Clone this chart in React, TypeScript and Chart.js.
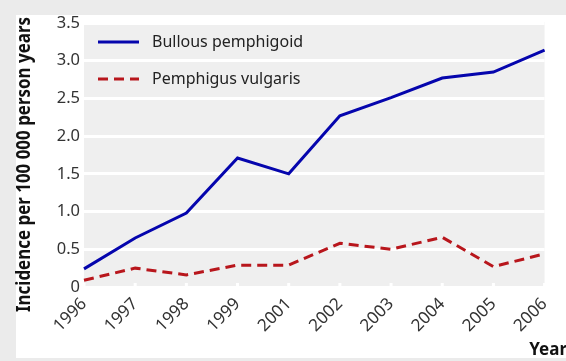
import React, { useEffect, useRef } from "react";
import { Chart, registerables } from "chart.js";

Chart.register(...registerables);

const years = ["1996", "1997", "1998", "1999", "2001", "2002", "2003", "2004", "2005", "2006"];
const bullousPemphigoid = [0.24, 0.65, 0.98, 1.71, 1.5, 2.27, 2.51, 2.77, 2.85, 3.14];
const pemphigusVulgaris = [0.09, 0.25, 0.16, 0.29, 0.29, 0.58, 0.5, 0.66, 0.27, 0.44];
const seriesNames = ["Bullous pemphigoid", "Pemphigus vulgaris"];
const yTitle = "Incidence per 100 000 person years";
const xTitle = "Year";

const FONT = "'Noto Sans', 'Open Sans', sans-serif";

const backgroundPlugin = {
  id: "bgPanel",
  beforeDraw(chart: any) {
    const { ctx, width, height, chartArea } = chart;
    ctx.save();
    ctx.fillStyle = "#ebebeb";
    ctx.fillRect(0, 0, width, height);
    ctx.fillStyle = "#ffffff";
    ctx.fillRect(16, 15, width - 16, 343);
    ctx.fillStyle = "#efefef";
    ctx.fillRect(chartArea.left, chartArea.top - 1, chartArea.right - chartArea.left, chartArea.bottom - chartArea.top + 1);
    ctx.restore();
  },
};

const overlayPlugin = {
  id: "overlay",
  afterDatasetsDraw(chart: any) {
    const { ctx, chartArea } = chart;
    ctx.save();
    const xs = chart.scales.x;
    ctx.strokeStyle = "#ffffff";
    ctx.lineWidth = 3;
    for (let i = 0; i < years.length; i++) {
      const px = xs.getPixelForValue(i);
      ctx.beginPath();
      ctx.moveTo(px, chartArea.bottom - 4);
      ctx.lineTo(px, chartArea.bottom + 3);
      ctx.stroke();
    }
    const rows = [42, 79];
    chart.data.datasets.forEach((ds: any, i: number) => {
      const y = rows[i];
      ctx.strokeStyle = ds.borderColor;
      ctx.lineWidth = 3;
      ctx.setLineDash(ds.borderDash || []);
      ctx.beginPath();
      ctx.moveTo(98, y);
      ctx.lineTo(139, y);
      ctx.stroke();
      ctx.setLineDash([]);
      ctx.fillStyle = "#222222";
      ctx.font = `16px ${FONT}`;
      ctx.textBaseline = "middle";
      ctx.textAlign = "left";
      ctx.fillText(ds.label, 152, y);
    });
    ctx.save();
    ctx.translate(25, 164.5);
    ctx.rotate(-Math.PI / 2);
    ctx.font = `bold 19px ${FONT}`;
    const w = ctx.measureText(yTitle).width;
    const target = 295;
    ctx.scale(target / w, 1);
    ctx.fillStyle = "#111111";
    ctx.textAlign = "center";
    ctx.textBaseline = "middle";
    ctx.fillText(yTitle, 0, 0);
    ctx.restore();
    ctx.font = `bold 17px ${FONT}`;
    ctx.fillStyle = "#111111";
    ctx.textAlign = "right";
    ctx.textBaseline = "middle";
    ctx.fillText(xTitle, 567, 350);
    ctx.restore();
  },
};

export default function App() {
  const ref = useRef<HTMLCanvasElement>(null);
  useEffect(() => {
    const chart = new Chart(ref.current as HTMLCanvasElement, {
      type: "line",
      data: {
        labels: years,
        datasets: [
          {
            label: seriesNames[0],
            data: bullousPemphigoid,
            borderColor: "#0505ad",
            borderWidth: 3,
            pointRadius: 0,
            tension: 0,
            fill: false,
          },
          {
            label: seriesNames[1],
            data: pemphigusVulgaris,
            borderColor: "#b8161c",
            borderWidth: 3,
            borderDash: [10, 6],
            pointRadius: 0,
            tension: 0,
            fill: false,
          },
        ],
      },
      options: {
        responsive: false,
        animation: false,
        layout: { padding: { left: 0, top: 23, right: 11, bottom: 0 } },
        plugins: { legend: { display: false }, tooltip: { enabled: false } },
        scales: {
          x: {
            offset: false,
            grid: { display: false, drawTicks: false },
            border: { display: false },
            ticks: {
              autoSkip: false,
              minRotation: 45,
              maxRotation: 45,
              padding: 7,
              color: "#333333",
              font: { family: FONT, size: 17 },
            },
            afterFit(scale: any) {
              scale.height = 74;
            },
          },
          y: {
            min: 0,
            max: 3.5,
            grid: { color: "#ffffff", lineWidth: 3, drawTicks: false },
            border: { display: false },
            ticks: {
              stepSize: 0.5,
              padding: 4,
              color: "#333333",
              font: { family: FONT, size: 16.5 },
              callback: (v: any) => (Number(v) === 0 ? "0" : Number(v).toFixed(1)),
            },
            afterFit(scale: any) {
              scale.width = 84;
            },
          },
        },
      },
      plugins: [backgroundPlugin, overlayPlugin],
    });
    return () => chart.destroy();
  }, []);
  return (
    <div style={{ position: "fixed", left: 0, top: 0, width: 566, height: 361 }}>
      <canvas ref={ref} width={566} height={361} />
    </div>
  );
}
